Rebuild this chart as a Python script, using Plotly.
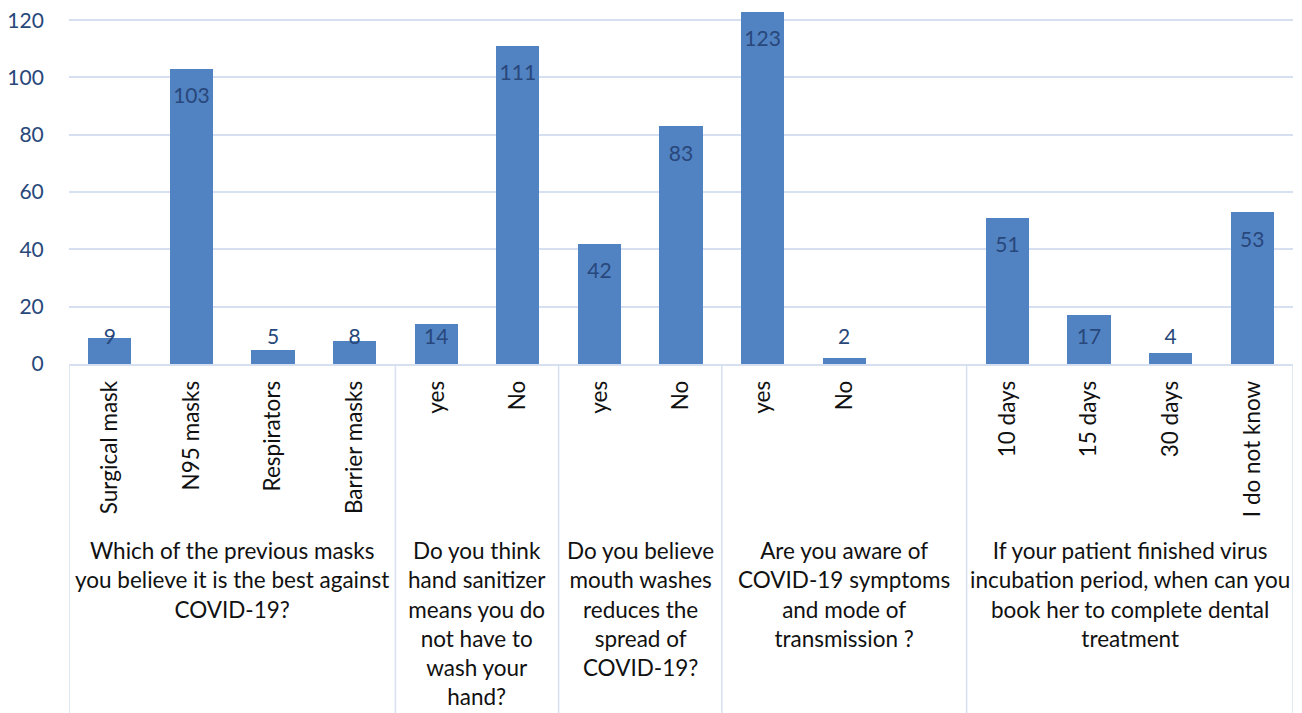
import numpy as np
import plotly.graph_objects as go

categories = ["Surgical mask", "N95 masks", "Respirators", "Barrier masks",
              "yes", "No", "yes", "No", "yes", "No", "",
              "10 days", "15 days", "30 days", "I do not know"]
values = [9, 103, 5, 8, 14, 111, 42, 83, 123, 2, None, 51, 17, 4, 53]
groups = [
    "Which of the previous masks<br>you believe it is the best against<br>COVID-19?",
    "Do you think<br>hand sanitizer<br>means you do<br>not have to<br>wash your<br>hand?",
    "Do you believe<br>mouth washes<br>reduces the<br>spread of<br>COVID-19?",
    "Are you aware of<br>COVID-19 symptoms<br>and mode of<br>transmission ?",
    "If your patient finished virus<br>incubation period, when can you<br>book her to complete dental<br>treatment",
]
group_sizes = [4, 2, 2, 3, 4]
y_ticks = [0, 20, 40, 60, 80, 100, 120]

FONT = "Lato"
BAR = "#5182c2"
LABEL = "#28477a"
GRID = "#d6e0f0"

x = np.arange(len(categories))
vals = np.array([np.nan if v is None else v for v in values], dtype=float)

fig = go.Figure()
fig.add_trace(go.Bar(x=x, y=vals, width=0.53, marker=dict(color=BAR, line=dict(width=0)),
                     hoverinfo="skip"))

mask = ~np.isnan(vals)
text_y = np.maximum(vals[mask] - 10.2, 8.7)
fig.add_trace(go.Scatter(x=x[mask], y=text_y, mode="text",
                         text=[str(int(v)) for v in vals[mask]],
                         textfont=dict(family=FONT, size=21, color=LABEL),
                         textposition="middle center", cliponaxis=False, hoverinfo="skip"))

# page body has an 8px margin; figure is sized/offset to compensate
W, H = 1294, 705
T = 3
AX_Y = 356
H_PLOT = AX_Y - T
H_BOT = H - AX_Y
edges = np.concatenate([[0], np.cumsum(group_sizes)]) - 0.5
for e in edges:
    fig.add_shape(type="line", xref="x", yref="paper", x0=e, x1=e, y0=0,
                  y1=-H_BOT / H_PLOT, line=dict(color=GRID, width=1.5))
for i, g in enumerate(groups):
    c = (edges[i] + edges[i + 1]) / 2
    fig.add_annotation(x=c, xref="x", y=-(171) / H_PLOT, yref="paper",
                       text=g, showarrow=False, yanchor="top", xanchor="center",
                       align="center", font=dict(family=FONT, size=22.5, color="#111111"))

fig.update_layout(
    width=W, height=H,
    margin=dict(l=61, r=9, t=T, b=H_BOT, autoexpand=False),
    plot_bgcolor="white", paper_bgcolor="white",
    showlegend=False, bargap=0,
    font=dict(family=FONT),
)
fig.update_xaxes(range=[-0.5, len(categories) - 0.5], tickmode="array",
                 tickvals=list(x), ticktext=categories, tickangle=-90,
                 ticks="outside", ticklen=6, tickcolor="rgba(0,0,0,0)",
                 tickfont=dict(family=FONT, size=22.5, color="#111111"),
                 showgrid=False, showline=True, linecolor=GRID, linewidth=1.5,
                 zeroline=False, automargin=False, ticklabeloverflow="allow")
fig.update_yaxes(range=[0, 123.2], tickmode="array", tickvals=y_ticks,
                 ticks="outside", ticklen=20, tickcolor="rgba(0,0,0,0)",
                 tickfont=dict(family=FONT, size=21, color=LABEL),
                 showgrid=True, gridcolor=GRID, gridwidth=1.5,
                 showline=False, zeroline=False, automargin=False,
                 ticklabeloverflow="allow")

fig.write_html("out.html")
